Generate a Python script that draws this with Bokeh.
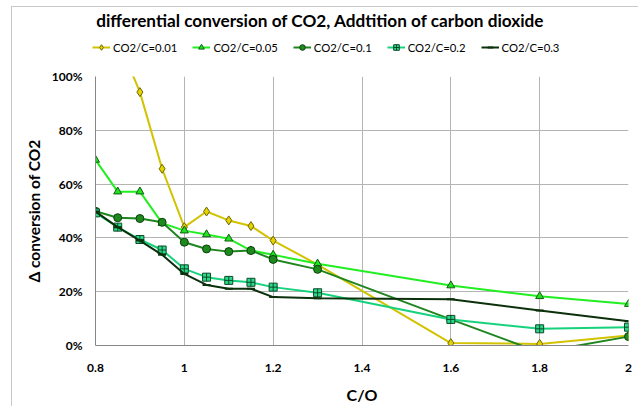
from bokeh.plotting import figure
from bokeh.layouts import column
from bokeh.embed import file_html
from bokeh.resources import INLINE
from bokeh.models import (Range1d, NumeralTickFormatter, CustomJSTickFormatter, Legend,
                          LegendItem, FixedTicker, Label)

# ---- data ----
co_ratio = [0.8, 0.85, 0.9, 0.95, 1.0, 1.05, 1.1, 1.15, 1.2, 1.3, 1.6, 1.8, 2.0]
conv_001 = [1.40, 1.14, 0.942, 0.657, 0.440, 0.498, 0.465, 0.444, 0.390, 0.301, 0.009, 0.006, 0.037]
conv_005 = [0.690, 0.572, 0.572, 0.455, 0.427, 0.413, 0.397, 0.353, 0.337, 0.304, 0.223, 0.183, 0.154]
conv_01 = [0.499, 0.475, 0.472, 0.458, 0.384, 0.359, 0.349, 0.353, 0.320, 0.283, 0.097, -0.025, 0.033]
conv_02 = [0.493, 0.440, 0.394, 0.355, 0.285, 0.254, 0.242, 0.235, 0.217, 0.196, 0.097, 0.062, 0.068]
conv_03 = [0.498, 0.440, 0.390, 0.337, 0.266, 0.225, 0.211, 0.211, 0.180, 0.176, 0.172, 0.130, 0.090]
series_labels = ["CO2/C=0.01", "CO2/C=0.05", "CO2/C=0.1", "CO2/C=0.2", "CO2/C=0.3"]
x_ticks = [0.8, 1.0, 1.2, 1.4, 1.6, 1.8, 2.0]
y_ticks = [0.0, 0.2, 0.4, 0.6, 0.8, 1.0]
title_text = "differential conversion of CO2, Addtition of carbon dioxide"

FONT = "Lato"
LEFT, FW, RIGHT = 83, 533, 10
TOP_H = 59
MAIN_TOP = 10

# ---- header figure (title + legend); its data ranges lie far from the series values ----
head = figure(output_backend="svg", toolbar_location=None,
              frame_width=LEFT + FW + RIGHT, frame_height=TOP_H,
              min_border=0, x_axis_type=None, y_axis_type=None,
              x_range=Range1d(100, 200), y_range=Range1d(100, 200))
head.outline_line_color = None
head.grid.visible = False
head.border_fill_color = "white"

# ---- main figure ----
p = figure(output_backend="svg", toolbar_location=None,
           frame_width=FW, frame_height=269,
           min_border_left=LEFT, min_border_top=MAIN_TOP, min_border_right=RIGHT,
           min_border_bottom=58,
           x_range=Range1d(0.8, 2.0), y_range=Range1d(0.0, 1.0))
p.outline_line_color = None
p.background_fill_color = "white"
p.border_fill_color = "white"

p.xgrid.ticker = FixedTicker(ticks=x_ticks)
p.ygrid.ticker = FixedTicker(ticks=y_ticks)
p.xgrid.grid_line_color = "#b4b4b4"
p.ygrid.grid_line_color = "#b4b4b4"

p.xaxis.ticker = FixedTicker(ticks=x_ticks)
p.yaxis.ticker = FixedTicker(ticks=y_ticks)
p.yaxis.formatter = NumeralTickFormatter(format="0%")
p.xaxis.formatter = CustomJSTickFormatter(code="return tick.toFixed(1).replace(/\\.0$/, '');")
for ax in (p.xaxis, p.yaxis):
    ax.major_tick_out = 0
    ax.major_tick_in = 0
    ax.minor_tick_out = 0
    ax.minor_tick_in = 0
    ax.axis_line_color = "#868686"
    ax.axis_line_width = 1
    ax.major_label_text_font = FONT
    ax.major_label_text_font_style = "bold"
    ax.major_label_text_font_size = "12px"
    ax.major_label_text_color = "black"
    ax.axis_label_text_font = FONT
    ax.axis_label_text_font_style = "bold"
    ax.axis_label_text_color = "black"
p.yaxis.major_label_standoff = 13
p.xaxis.major_label_standoff = 18
p.yaxis.axis_label = "Δ conversion of CO2"
p.yaxis.axis_label_text_font_size = "15.5px"
p.yaxis.axis_label_standoff = 6
p.xaxis.axis_label = "C/O"
p.xaxis.axis_label_text_font_size = "16px"
p.xaxis.axis_label_standoff = 10

specs = [
    (conv_001, "#D2C200", "diamond", 9, "#E3D400", "#6E6400"),
    (conv_005, "#22EE22", "triangle", 8, "#22E222", "#0E5E0E"),
    (conv_01, "#1F861F", "circle", 8, "#1E8A1E", "#0C400C"),
    (conv_02, "#16D27C", "square_cross", 8, "#2ADA88", "#0A4A2A"),
    (conv_03, "#0B300B", "dash", 8, "#0B300B", "#0B300B"),
]
items = []
for (vals, lc, mk, sz, fc, oc), lab in zip(specs, series_labels):
    lw = 1 if mk != "dash" else 2
    p.line(co_ratio, vals, line_color=lc, line_width=2)
    p.scatter(co_ratio, vals, marker=mk, size=sz, fill_color=fc, line_color=oc, line_width=lw)
    # legend proxies in the header (same data, outside the header's ranges, same styles)
    hl = head.line(co_ratio, vals, line_color=lc, line_width=2)
    hs = head.scatter(co_ratio, vals, marker=mk, size=sz, fill_color=fc, line_color=oc,
                      line_width=lw)
    items.append(LegendItem(label=lab, renderers=[hl, hs]))

legend = Legend(items=items, orientation="horizontal", location=(80, 12),
                glyph_width=18, glyph_height=14, label_height=14, label_standoff=3,
                spacing=15, padding=0, margin=0,
                label_text_font=FONT, label_text_font_size="11.3px",
                label_text_color="black",
                background_fill_alpha=0, border_line_color=None)
head.add_layout(legend)

head.add_layout(Label(x=225, y=46, x_units="screen", y_units="screen", text=title_text,
                      text_align="center", text_baseline="middle", text_font=FONT,
                      text_font_style="bold", text_font_size="17.2px", text_color="black"))

layout = column(head, p, spacing=0)
layout.styles = {"border-left": "1px solid #c8c8c8", "border-top": "1px solid #c8c8c8",
                 "margin-left": "11px", "margin-top": "6px"}

open("out.html", "w").write(file_html(layout, INLINE))
